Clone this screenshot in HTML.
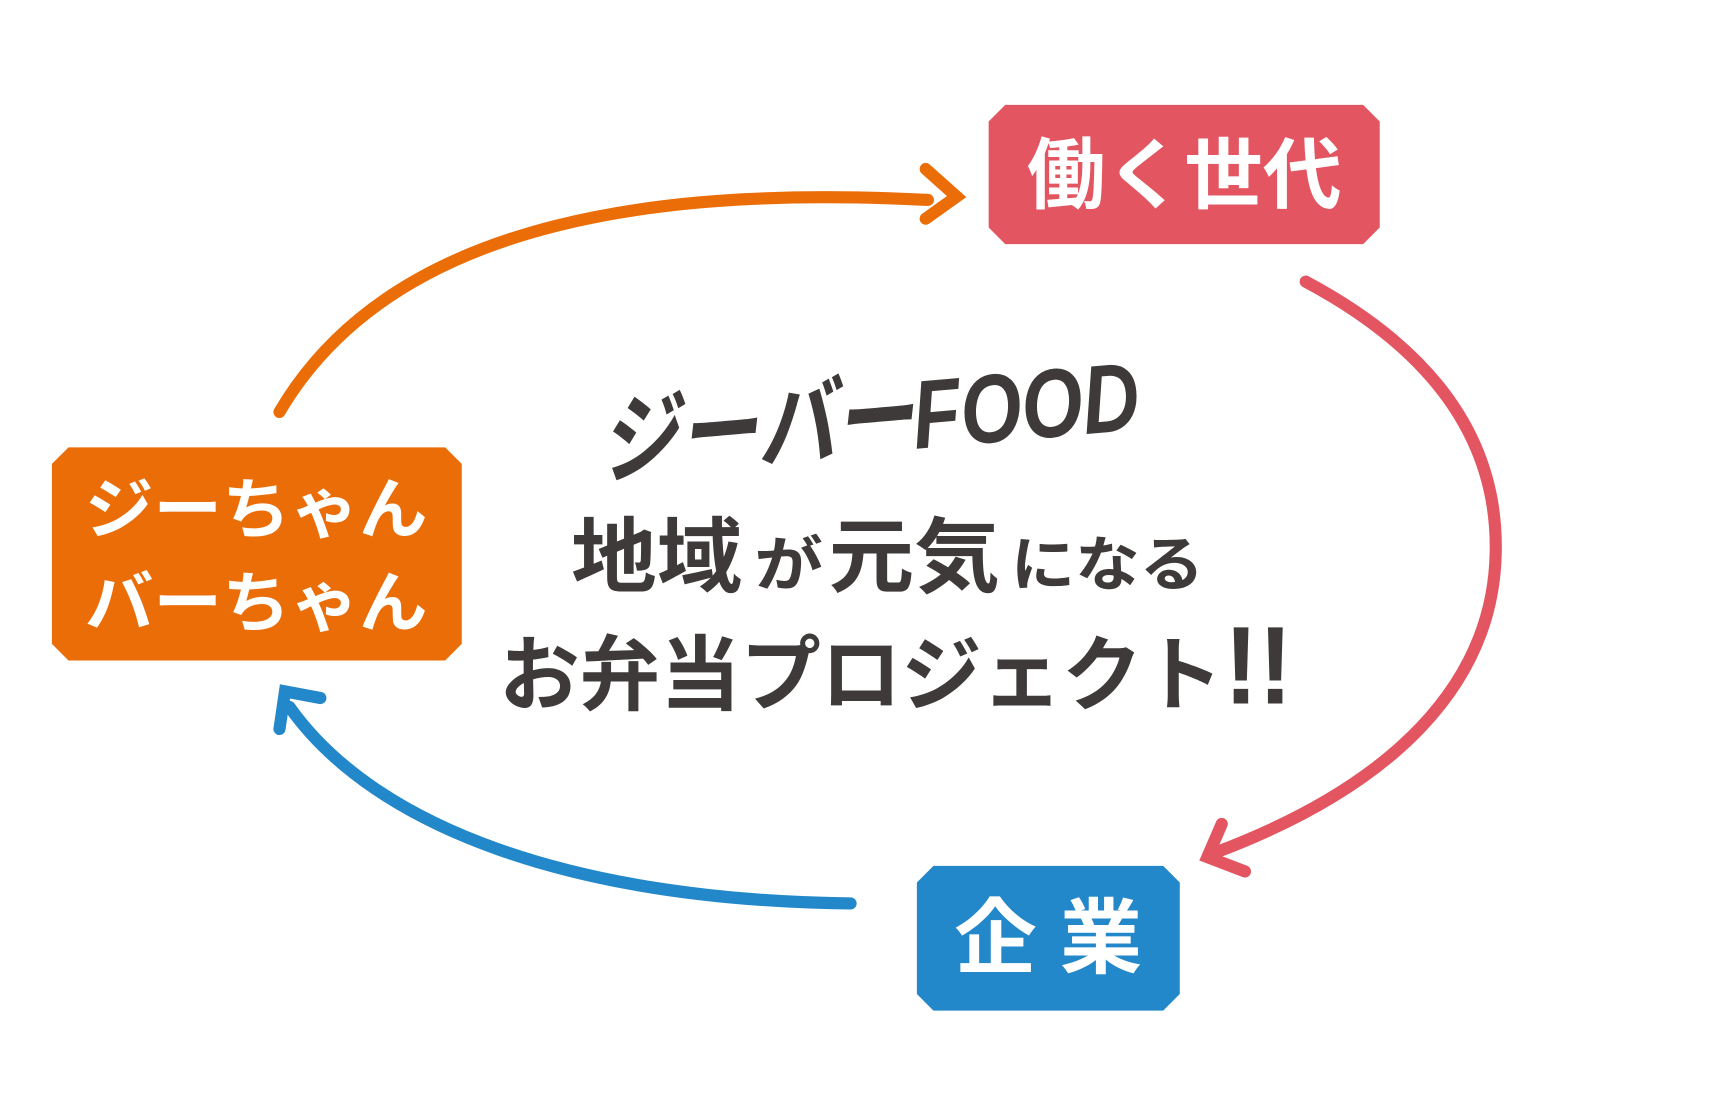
<!DOCTYPE html>
<html><head><meta charset="utf-8"><style>
html,body{margin:0;padding:0;background:#fff;}
svg{display:block;}
text{font-family:"Liberation Sans","Noto Sans CJK JP",sans-serif;font-weight:bold;}
</style></head><body>
<svg width="1731" height="1110" viewBox="0 0 1567 1005" preserveAspectRatio="none" xmlns="http://www.w3.org/2000/svg">
<rect width="1567" height="1005" fill="#fff"/>
<path d="M253,373 C360,190 620,170 840,181" fill="none" stroke="#eb6d08" stroke-width="11" stroke-linecap="round"/>
<polyline points="838,153 866,178 838,198" fill="none" stroke="#eb6d08" stroke-width="11" stroke-linecap="round"/>
<path d="M1182,255 C1300,318 1356,400 1354,500 C1352,620 1260,712 1100,772" fill="none" stroke="#e25561" stroke-width="11" stroke-linecap="round"/>
<polyline points="1106,746 1093,776 1127,789" fill="none" stroke="#e25561" stroke-width="11" stroke-linecap="round"/>
<path d="M770,818 C520,815 340,750 262,640" fill="none" stroke="#2388ca" stroke-width="11" stroke-linecap="round"/>
<polyline points="253,660 258,626 290,632" fill="none" stroke="#2388ca" stroke-width="11" stroke-linecap="round"/>
<polygon points="910,95 1234,95 1249,110 1249,206 1234,221 910,221 895,206 895,110" fill="#e25561"/>
<text x="1072" y="183" font-size="70" fill="#fff" text-anchor="middle" textLength="285" lengthAdjust="spacingAndGlyphs">働く世代</text>
<polygon points="62,405 403,405 418,420 418,583 403,598 62,598 47,583 47,420" fill="#eb6d08"/>
<text x="232" y="482" font-size="60" fill="#fff" text-anchor="middle" textLength="310" lengthAdjust="spacingAndGlyphs">ジーちゃん</text>
<text x="232" y="567" font-size="60" fill="#fff" text-anchor="middle" textLength="310" lengthAdjust="spacingAndGlyphs">バーちゃん</text>
<polygon points="845,784 1053,784 1068,799 1068,900 1053,915 845,915 830,900 830,799" fill="#2388ca"/>
<text x="949" y="875" font-size="74" fill="#fff" text-anchor="middle" textLength="170" lengthAdjust="spacingAndGlyphs">企 業</text>
<text x="787" y="410" font-size="88" fill="#3e3a39" font-style="italic" text-anchor="middle" textLength="490" lengthAdjust="spacingAndGlyphs" transform="rotate(-5 787 380)">ジーバーFOOD</text>
<text y="530" fill="#3e3a39"><tspan x="517" font-size="74" textLength="155" lengthAdjust="spacingAndGlyphs">地域</tspan><tspan x="683" font-size="54" textLength="62" lengthAdjust="spacingAndGlyphs">が</tspan><tspan x="750" font-size="74" textLength="155" lengthAdjust="spacingAndGlyphs">元気</tspan><tspan x="915" font-size="54" textLength="175" lengthAdjust="spacingAndGlyphs">になる</tspan></text>
<text y="637" fill="#3e3a39"><tspan x="452" font-size="74" textLength="655" lengthAdjust="spacingAndGlyphs">お弁当プロジェクト</tspan><tspan x="1108" font-size="100" textLength="62" lengthAdjust="spacingAndGlyphs">!!</tspan></text>
</svg>
</body></html>
